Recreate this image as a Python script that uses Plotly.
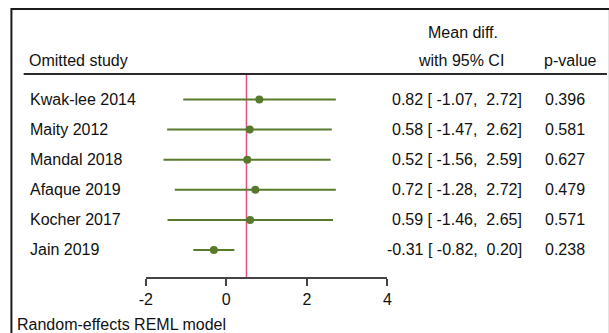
import plotly.graph_objects as go

studies = ["Kwak-lee 2014", "Maity 2012", "Mandal 2018", "Afaque 2019", "Kocher 2017", "Jain 2019"]
estimates = [0.82, 0.58, 0.52, 0.72, 0.59, -0.31]
ci_low = [-1.07, -1.47, -1.56, -1.28, -1.46, -0.82]
ci_high = [2.72, 2.62, 2.59, 2.72, 2.65, 0.20]
p_values = ["0.396", "0.581", "0.627", "0.479", "0.571", "0.238"]
pooled = 0.50
x_ticks = [-2, 0, 2, 4]
footer = "Random-effects REML model"

W, H = 609, 333
FONT = "Liberation Sans, Arial, sans-serif"
GREEN = "#577a2c"
RED = "#e8527c"

def px(x):
    return x / W

def py(y):
    return 1 - y / H

# rows: index 0 at top
rows = [-i for i in range(len(studies))]

fig = go.Figure()

# CI lines
for r, lo, hi in zip(rows, ci_low, ci_high):
    fig.add_trace(go.Scatter(x=[lo, hi], y=[r, r], mode="lines",
                             line=dict(color=GREEN, width=2), hoverinfo="skip",
                             showlegend=False))
fig.add_trace(go.Scatter(x=estimates, y=rows, mode="markers",
                         marker=dict(color=GREEN, size=8), showlegend=False))

# pooled line
fig.add_shape(type="line", xref="x", yref="paper", x0=pooled, x1=pooled,
              y0=py(277.4), y1=py(74), line=dict(color=RED, width=1.5), layer="below")

# frame
fig.add_shape(type="rect", xref="paper", yref="paper", x0=px(4.5), x1=px(615),
              y0=py(340), y1=py(9), line=dict(color="#1a1a1a", width=2))
# header underline
fig.add_shape(type="line", xref="paper", yref="paper", x0=px(17), x1=px(612),
              y0=py(74), y1=py(74), line=dict(color="#2a2a2a", width=2))

def ann(text, x, y, xanchor="left"):
    fig.add_annotation(text=text, x=px(x), y=py(y), xref="paper", yref="paper",
                       xanchor=xanchor, yanchor="middle", showarrow=False,
                       font=dict(family=FONT, size=16, color="#111111"))

ann("Omitted study", 20, 61)
ann("Mean diff.", 465, 33, "center")
ann("with 95% CI", 463, 61, "center")
ann("p-value", 575, 61, "center")
ann(footer, 8, 324)

NB = "\u00a0"
def fmt(v):
    s = f"{v:.2f}"
    return s if v < 0 else NB + s

row_px = [99.5 + 30.1 * i for i in range(len(studies))]
for name, e, lo, hi, p, yy in zip(studies, estimates, ci_low, ci_high, p_values, row_px):
    ann(name, 21, yy)
    ci_text = f"{e:.2f}{NB}[{NB}{fmt(lo)},{NB}{fmt(hi)}]"
    ann(ci_text, 527, yy, "right")
    ann(p, 569, yy, "center")

y_top = (99.5 - 74) / 30.1
y_bot = -(277.4 - 99.5) / 30.1

fig.update_layout(
    width=W, height=H,
    margin=dict(l=0, r=0, t=0, b=0),
    paper_bgcolor="white", plot_bgcolor="white",
    xaxis=dict(domain=[px(141.6), px(388)], range=[-2, 4], tickvals=x_ticks,
               ticktext=[str(t) for t in x_ticks],
               showgrid=False, zeroline=False, showline=True, linecolor="#444444",
               linewidth=1.5, ticks="outside", ticklen=7, tickwidth=1.5, tickcolor="#444444",
               tickfont=dict(family=FONT, size=16, color="#111111"), fixedrange=True),
    yaxis=dict(domain=[py(277.4), py(74)], range=[y_bot, y_top], visible=False,
               fixedrange=True),
    showlegend=False,
)

fig.write_html("out.html")
